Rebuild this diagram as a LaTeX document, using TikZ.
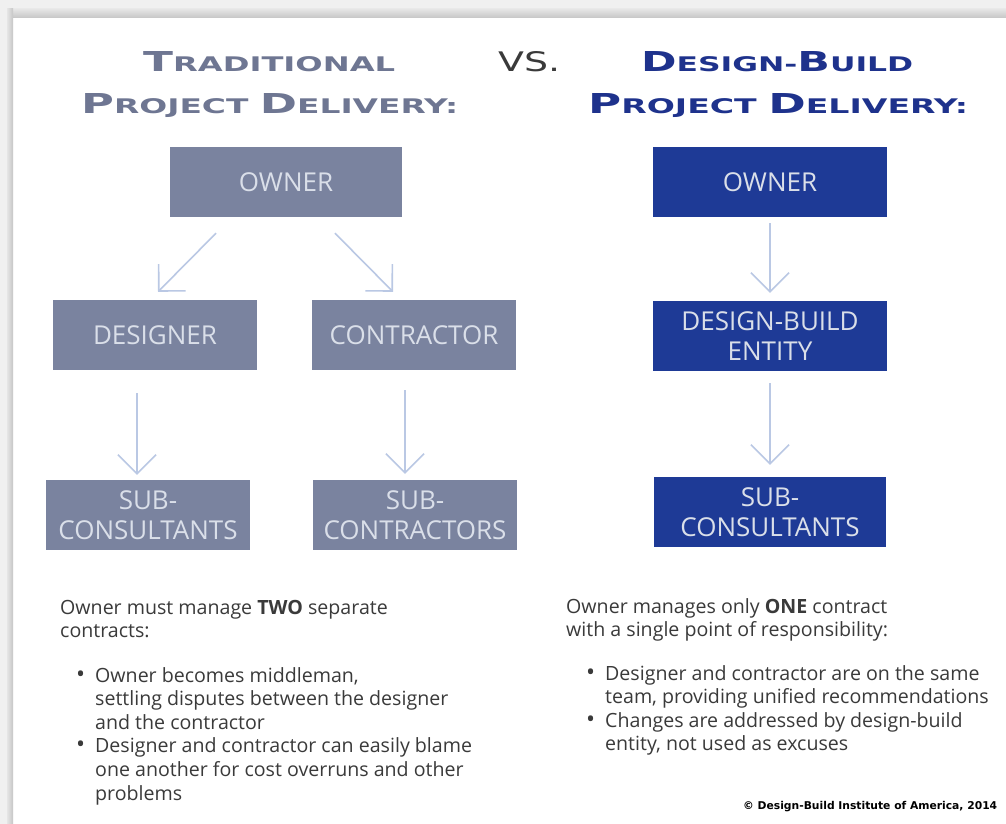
\documentclass[tikz,border=0pt]{standalone}
\usepackage{fontspec}
\setmainfont{Open Sans}
\newfontfamily\headfont{DejaVu Sans}
\usetikzlibrary{arrows.meta}
\definecolor{boxgray}{HTML}{7A839F}
\definecolor{boxblue}{HTML}{1E3A96}
\definecolor{headgray}{HTML}{6E7692}
\definecolor{headblue}{HTML}{1E328C}
\definecolor{arrowc}{HTML}{BAC8E4}
\definecolor{boxtext}{HTML}{DADFE9}
\definecolor{bodyc}{HTML}{3A3A3A}
\newcommand{\hsc}[2]{{\fontsize{30}{30}\selectfont #1}{\fontsize{22}{22}\selectfont #2}}
\newcommand{\bul}{{\fontsize{24}{20}\selectfont\textbullet}}
\tikzset{
  gbox/.style={fill=boxgray, text=boxtext, minimum width=204pt, minimum height=70pt, inner sep=0, align=center, font=\fontsize{26}{30}\selectfont},
  bbox/.style={gbox, fill=boxblue, minimum width=234pt},
  arr/.style={draw=arrowc, line width=1.6pt, -{Straight Barb[length=19pt,width=38pt,line width=1.6pt]}},
  hdr/.style={anchor=base west, inner sep=0},
  body/.style={anchor=base west, inner sep=0, text=bodyc, font=\fontsize{19.6}{23.6}\selectfont},
}
\begin{document}
\begin{tikzpicture}[x=1pt,y=-1pt]
\useasboundingbox (0,0) rectangle (1006,824);
\fill[white] (0,0) rectangle (1006,824);
% frame shadow
\fill[gray!12] (0,0) rectangle (1006,18);
\fill[gray!12] (0,0) rectangle (13,824);
\shade[top color=gray!20, bottom color=gray!45] (8,9) rectangle (1006,18);
\shade[left color=gray!20, right color=gray!45] (7,9) rectangle (13,824);

% headers
\node[hdr, text=headgray] (h1) at (143,72) {\resizebox{252pt}{20pt}{\headfont\bfseries\hsc{T}{RADITIONAL}}};
\node[hdr, text=headgray] (h2) at (81,114) {\resizebox{377pt}{20pt}{\headfont\bfseries\hsc{P}{ROJECT }\hsc{D}{ELIVERY:}}};
\node[hdr, text=bodyc] (vs) at (498,72) {\resizebox{62pt}{20pt}{\headfont VS.}};
\node[hdr, text=headblue] (h3) at (641,72) {\resizebox{272pt}{20pt}{\headfont\bfseries\hsc{D}{ESIGN-}\hsc{B}{UILD}}};
\node[hdr, text=headblue] (h4) at (588,114) {\resizebox{380pt}{20pt}{\headfont\bfseries\hsc{P}{ROJECT }\hsc{D}{ELIVERY:}}};

% left tree
\node[gbox, minimum width=232pt] (ownerL) at (286,182) {OWNER};
\node[gbox] (designer) at (155,335) {DESIGNER};
\node[gbox] (contractor) at (414,335) {CONTRACTOR};
\node[gbox] (subL) at (148,515) {SUB-\\CONSULTANTS};
\node[gbox] (subC) at (415,515) {SUB-\\CONTRACTORS};
% right tree
\node[bbox] (ownerR) at (770,182) {OWNER};
\node[bbox] (db) at (770,336) {DESIGN-BUILD\\ENTITY};
\node[bbox, minimum width=232pt] (subR) at (770,512) {SUB-\\CONSULTANTS};

% arrows
\draw[arr] ([xshift=-70pt,yshift=-16pt]ownerL.south) -- ([xshift=3pt,yshift=8pt]designer.north);
\draw[arr] ([xshift=49pt,yshift=-16pt]ownerL.south) -- ([xshift=-21pt,yshift=8pt]contractor.north);
\draw[arr] ([xshift=-18pt,yshift=-23pt]designer.south) -- ([xshift=-11pt,yshift=5pt]subL.north);
\draw[arr] ([xshift=-9pt,yshift=-20pt]contractor.south) -- ([xshift=-10pt,yshift=6pt]subC.north);
\draw[arr] ([yshift=-6pt]ownerR.south) -- ([yshift=8pt]db.north);
\draw[arr] ([yshift=-12pt]db.south) -- ([yshift=12pt]subR.north);

% texts
\node[body] (tl) at (60,614) {\begin{tabular}[t]{@{}l@{}}Owner must manage \textbf{TWO} separate\\contracts:\end{tabular}};
\node[body] (bl) at (76,682) {\begin{tabular}[t]{@{}p{19pt}@{}l@{}}\bul & Owner becomes middleman,\\ & settling disputes between the designer\\ & and the contractor\\ \bul & Designer and contractor can easily blame\\ & one another for cost overruns and other\\ & problems\end{tabular}};
\node[body] (tr) at (566,613) {\begin{tabular}[t]{@{}l@{}}Owner manages only \textbf{ONE} contract\\with a single point of responsibility:\end{tabular}};
\node[body] (br) at (586,680) {\begin{tabular}[t]{@{}p{19pt}@{}l@{}}\bul & Designer and contractor are on the same\\ & team, providing unified recommendations\\ \bul & Changes are addressed by design-build\\ & entity, not used as excuses\end{tabular}};
\node[hdr, text=black] (copy) at (743,809) {\resizebox{254pt}{!}{\headfont\bfseries\fontsize{12}{12}\selectfont\textcopyright\ Design-Build Institute of America, 2014}};
\end{tikzpicture}
\end{document}
